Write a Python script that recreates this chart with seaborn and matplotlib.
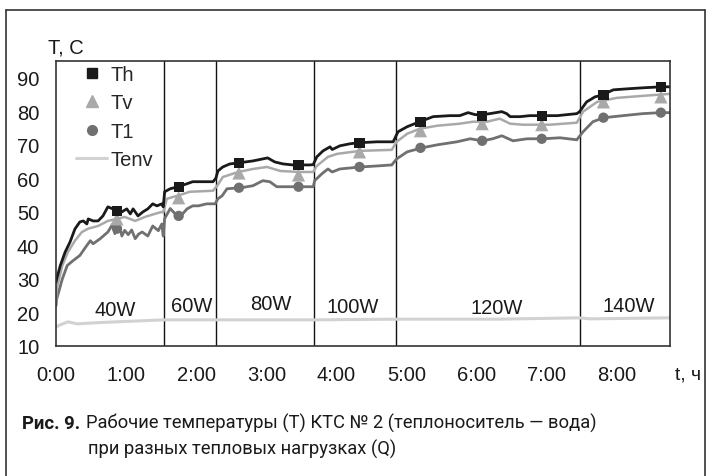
import numpy as np
import pandas as pd
import matplotlib
matplotlib.use("Agg")
import matplotlib.pyplot as plt
from matplotlib.lines import Line2D
import seaborn as sns

# ---------------- data (time in hours, temperature in C) ----------------
th_t = [0.00, 0.01, 0.06, 0.13, 0.20, 0.27, 0.34, 0.39, 0.44, 0.46, 0.53, 0.60, 0.67, 0.74, 0.81, 0.87,
        0.94, 1.01, 1.06, 1.10, 1.17, 1.24, 1.31, 1.38, 1.44, 1.51, 1.53,
        1.55, 1.63, 1.74, 1.87, 1.95, 2.10, 2.24, 2.28,
        2.31, 2.38, 2.48, 2.60, 2.81, 2.95, 3.02, 3.12, 3.24, 3.38, 3.45, 3.62, 3.67,
        3.72, 3.81, 3.91, 3.94, 4.05, 4.19, 4.31, 4.58, 4.81,
        4.88, 5.01, 5.19, 5.38, 5.62, 5.76, 5.88, 5.98, 6.08, 6.19, 6.36, 6.43, 6.48, 6.62, 6.76, 6.92,
        7.15, 7.43, 7.47,
        7.57, 7.69, 7.80, 7.95, 8.15, 8.37, 8.64, 8.76]
th_v = [29.0, 30.0, 33.9, 38.0, 41.0, 44.9, 47.0, 47.3, 46.4, 47.9, 47.3, 47.3, 48.8, 51.5, 50.9, 50.5,
        50.0, 50.9, 49.4, 50.9, 48.8, 50.0, 50.9, 52.4, 51.8, 52.4, 51.5,
        56.0, 56.9, 57.5, 58.4, 59.0, 59.0, 59.0, 60.0,
        62.2, 63.4, 64.3, 64.6, 65.2, 65.8, 66.1, 64.9, 64.3, 64.0, 64.0, 64.0, 64.1,
        66.4, 68.2, 69.4, 68.6, 69.7, 70.3, 70.6, 70.9, 70.9,
        73.9, 75.4, 76.9, 78.4, 78.7, 78.7, 79.6, 79.0, 79.0, 79.3, 79.9, 79.3, 78.4, 78.4, 78.7, 78.7,
        78.7, 79.3, 79.9,
        82.8, 84.3, 84.9, 86.4, 86.7, 87.0, 87.3, 87.3]

tv_t = [0.00, 0.01, 0.09, 0.17, 0.27, 0.37, 0.46, 0.60, 0.74, 0.87, 0.98, 1.13, 1.27, 1.41, 1.51, 1.53,
        1.58, 1.73, 1.91, 2.24, 2.30,
        2.38, 2.60, 2.81, 3.01, 3.20, 3.48, 3.67,
        3.72, 3.88, 4.01, 4.34, 4.79,
        4.86, 5.01, 5.19, 5.44, 5.76, 5.95, 6.15, 6.33, 6.48, 6.66, 7.05, 7.43,
        7.52, 7.72, 8.00, 8.37, 8.76]
tv_v = [23.0, 27.0, 34.0, 38.0, 41.4, 44.0, 45.0, 45.8, 47.3, 47.9, 48.5, 47.3, 48.5, 49.4, 50.0, 49.8,
        53.9, 54.8, 56.0, 56.3, 57.8,
        60.4, 61.9, 62.8, 63.4, 62.2, 61.9, 61.9,
        63.7, 66.4, 67.3, 68.2, 68.5,
        70.9, 73.3, 74.8, 75.7, 76.3, 76.9, 76.9, 77.8, 76.3, 76.0, 76.0, 76.6,
        79.9, 82.8, 84.0, 84.6, 85.2]

t1_t = [0.00, 0.01, 0.09, 0.16, 0.24, 0.34, 0.44, 0.49, 0.53, 0.63, 0.74, 0.81, 0.84, 0.86, 0.88, 0.91,
        0.94, 0.98, 1.03, 1.08, 1.13, 1.18, 1.23, 1.31, 1.38, 1.46, 1.51, 1.53,
        1.55, 1.63, 1.70, 1.78, 1.87, 1.95, 2.03, 2.15, 2.27,
        2.31, 2.37, 2.44, 2.64, 2.81, 2.95, 3.05, 3.15, 3.38, 3.67,
        3.69, 3.79, 3.88, 3.94, 4.05, 4.35, 4.58, 4.79,
        4.86, 5.01, 5.22, 5.44, 5.72, 5.91, 6.08, 6.23, 6.36, 6.52, 6.72, 6.95, 7.19, 7.43,
        7.52, 7.66, 7.82, 8.09, 8.37, 8.62, 8.76]
t1_v = [22.0, 24.0, 30.0, 34.0, 35.4, 37.0, 40.0, 41.4, 40.5, 42.0, 44.0, 46.4, 43.5, 46.0, 44.0, 45.5,
        42.8, 44.5, 43.2, 44.6, 42.0, 43.4, 44.0, 42.8, 45.8, 44.4, 46.4, 42.8,
        48.0, 51.0, 49.4, 48.8, 50.9, 51.8, 51.8, 52.4, 52.4,
        53.9, 54.8, 56.9, 57.2, 57.8, 59.3, 59.0, 57.5, 57.5, 57.5,
        59.3, 61.3, 62.8, 61.9, 62.8, 63.4, 63.7, 64.0,
        65.8, 67.9, 69.1, 70.0, 70.9, 71.8, 71.2, 71.8, 72.7, 71.2, 71.8, 71.8, 72.1, 71.5,
        73.9, 76.9, 78.1, 78.7, 79.3, 79.6, 79.6]

tenv_t = [0.00, 0.07, 0.17, 0.30, 0.63, 1.54, 2.28, 3.68, 4.85, 6.29, 7.47, 7.62, 8.76]
tenv_v = [15.7, 16.4, 17.2, 16.6, 17.0, 17.8, 17.8, 17.8, 18.0, 18.0, 18.4, 18.1, 18.4]

mark_t = [0.87, 1.75, 2.61, 3.46, 4.33, 5.20, 6.08, 6.93, 7.81, 8.63]
th_mark = [50.3, 57.5, 64.6, 64.0, 70.6, 76.9, 78.7, 78.7, 84.9, 87.3]
tv_mark = [47.9, 54.2, 61.6, 61.0, 67.9, 74.2, 76.3, 76.0, 82.8, 84.3]
t1_mark = [45.0, 48.8, 57.2, 57.5, 63.4, 69.1, 71.2, 71.8, 78.1, 79.6]

load_bounds = [1.54, 2.28, 3.68, 4.85, 7.47]
load_labels = ["40W", "60W", "80W", "100W", "120W", "140W"]
load_label_t = [0.84, 1.94, 3.07, 4.24, 6.29, 8.17]
load_label_v = [21.0, 22.2, 22.7, 21.9, 21.6, 22.2]

hour_ticks = [0, 1, 2, 3, 4, 5, 6, 7, 8]
hour_labels = ["0:00", "1:00", "2:00", "3:00", "4:00", "5:00", "6:00", "7:00", "8:00"]
y_ticks = [10, 20, 30, 40, 50, 60, 70, 80, 90]

# ---------------- style ----------------
sns.set_style("white")
plt.rcParams["font.family"] = ["Liberation Sans", "DejaVu Sans"]

C_TH = "#1a1a1a"
C_TV = "#a9a9a9"
C_T1 = "#707070"
C_TENV = "#d2d2d2"
FS = 14.5

W, H = 711, 477
fig = plt.figure(figsize=(W / 100, H / 100), dpi=100)
ax = fig.add_axes([56 / W, 1 - 347 / H, (670 - 56) / W, (347 - 62) / H])

df_th = pd.DataFrame({"t": th_t, "T": th_v})
df_tv = pd.DataFrame({"t": tv_t, "T": tv_v})
df_t1 = pd.DataFrame({"t": t1_t, "T": t1_v})
df_env = pd.DataFrame({"t": tenv_t, "T": tenv_v})

sns.lineplot(data=df_env, x="t", y="T", ax=ax, color=C_TENV, lw=2.2, sort=False, estimator=None)
sns.lineplot(data=df_t1, x="t", y="T", ax=ax, color=C_T1, lw=2.0, sort=False, estimator=None)
sns.lineplot(data=df_tv, x="t", y="T", ax=ax, color=C_TV, lw=1.8, sort=False, estimator=None)
sns.lineplot(data=df_th, x="t", y="T", ax=ax, color=C_TH, lw=2.0, sort=False, estimator=None)

sns.scatterplot(x=mark_t, y=t1_mark, ax=ax, marker="o", s=55, color=C_T1, edgecolor="none", zorder=5)
sns.scatterplot(x=mark_t, y=tv_mark, ax=ax, marker="^", s=90, color=C_TV, edgecolor="none", zorder=5)
sns.scatterplot(x=mark_t, y=th_mark, ax=ax, marker="s", s=55, color=C_TH, edgecolor="none", zorder=6)

for b in load_bounds:
    ax.axvline(b, color="#111111", lw=1.0, zorder=1)

for lab, lt, lv in zip(load_labels, load_label_t, load_label_v):
    ax.text(lt, lv, lab, ha="center", va="center", fontsize=FS, color="#1a1a1a")

ax.set_xlim(0, 8.76)
ax.set_ylim(10, 95)
ax.set_xticks(hour_ticks)
ax.set_xticklabels(hour_labels)
ax.set_yticks(y_ticks)
ax.set_xlabel("")
ax.set_ylabel("")
ax.tick_params(axis="x", direction="in", length=6, width=1, color="#222222",
               labelsize=FS, pad=14, labelcolor="#1a1a1a")
ax.tick_params(axis="y", direction="in", length=6, width=1, color="#222222",
               labelsize=FS, pad=12, labelcolor="#1a1a1a")
for s in ax.spines.values():
    s.set_visible(True)
    s.set_color("#333333")
    s.set_linewidth(1.2)

handles = [
    Line2D([], [], color=C_TH, marker="s", ls="none", markersize=7),
    Line2D([], [], color=C_TV, marker="^", ls="none", markersize=9),
    Line2D([], [], color=C_T1, marker="o", ls="none", markersize=7),
    Line2D([], [], color=C_TENV, lw=2.2),
]
leg = fig.legend(handles, ["Th", "Tv", "T1", "Tenv"], loc="upper left",
                 bbox_to_anchor=(76 / W, 1 - 66 / H), frameon=False, fontsize=FS,
                 borderpad=0, borderaxespad=0, handlelength=1.55, handletextpad=0.15,
                 labelspacing=0.47)

fig.text(48 / W, 1 - 53 / H, "T, C", fontsize=FS, color="#1a1a1a", ha="left", va="baseline")
fig.text(675 / W, 1 - 375 / H, "t, ч", fontsize=14, color="#1a1a1a", ha="left", va="center")

# figure frame
fc = "#333333"
fig.add_artist(Line2D([5.5 / W, 5.5 / W], [0, 1 - 10.5 / H], color=fc, lw=1.2, transform=fig.transFigure))
fig.add_artist(Line2D([5.5 / W, 704.5 / W], [1 - 10.5 / H, 1 - 10.5 / H], color=fc, lw=1.2, transform=fig.transFigure))
fig.add_artist(Line2D([704.5 / W, 704.5 / W], [0, 1 - 10.5 / H], color=fc, lw=1.2, transform=fig.transFigure))

# caption
cap_font = ["Roboto", "DejaVu Sans"]
fig.text(22 / W, 1 - 429 / H, "Рис. 9.", fontsize=13.3, fontweight="bold", family=cap_font,
         color="#1a1a1a", ha="left", va="baseline")
fig.text(86 / W, 1 - 429 / H, "Рабочие температуры (Т) КТС № 2 (теплоноситель — вода)",
         fontsize=13.2, family=cap_font, color="#1a1a1a", ha="left", va="baseline")
fig.text(88 / W, 1 - 455 / H, "при разных тепловых нагрузках (Q)",
         fontsize=13.2, family=cap_font, color="#1a1a1a", ha="left", va="baseline")

fig.savefig("out.png", dpi=100)
